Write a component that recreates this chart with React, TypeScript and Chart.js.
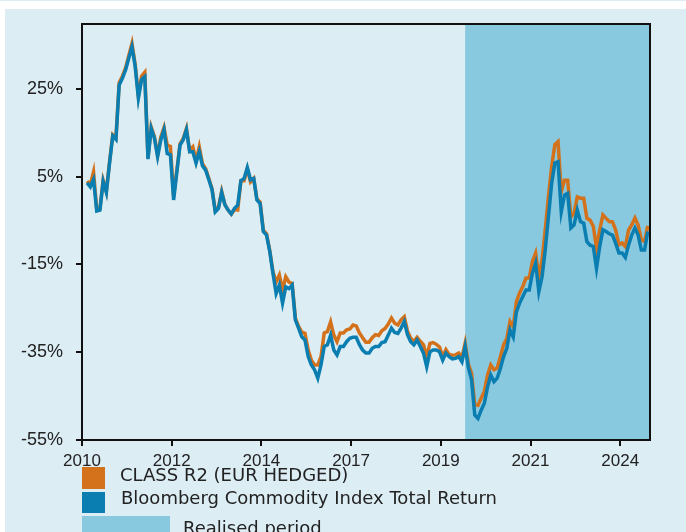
import React, { useEffect, useRef } from 'react';
import { Chart, registerables } from 'chart.js';

Chart.register(...registerables);

// ---- data ----
const xTickLabels = ['2010', '2012', '2014', '2017', '2019', '2021', '2024'];
const TICK_STEP = 28; // months between labelled ticks
const FIRST_POINT = 1.6; // month offset of first observation
const realisedStartIndex = 118; // index of first point in the realised period
const yTickValues = [-55, -35, -15, 5, 25];

const classR2 = [
  4.0, 3.2, 6.1, -2.5, -2.3, 4.2, 1.7, 8.4, 14.6, 13.9,
  26.4, 27.9, 29.8, 32.6, 35.4, 30.6, 23.4, 27.9, 28.8, 9.3,
  16.3, 14.1, 9.9, 14.0, 16.2, 12.2, 11.9, 0.5, 6.5, 12.5,
  13.7, 16.0, 11.0, 11.8, 8.6, 11.8, 8.0, 6.8, 4.6, 2.2,
  -2.8, -1.9, 1.7, -1.3, -2.6, -3.5, -2.5, -2.6, 4.1, 4.1,
  6.8, 3.8, 4.6, -0.1, -0.8, -7.2, -8.0, -11.8, -16.6, -19.0,
  -17.4, -20.8, -17.8, -19.0, -19.3, -27.2, -29.1, -30.4, -30.7, -34.5,
  -36.8, -37.9, -37.9, -36.0, -30.6, -30.3, -28.1, -31.1, -32.6, -30.6,
  -30.6, -29.9, -29.7, -28.8, -29.0, -30.6, -31.7, -32.7, -32.7, -31.7,
  -31.0, -31.2, -30.1, -29.6, -28.6, -27.2, -28.4, -28.8, -27.6, -26.9,
  -30.2, -31.8, -32.5, -31.6, -32.5, -33.3, -36.0, -33.0, -32.8, -33.2,
  -33.8, -36.0, -34.4, -35.5, -35.7, -35.6, -35.2, -36.2, -32.9, -37.7,
  -39.8, -47.0, -47.1, -45.5, -43.9, -40.2, -37.9, -39.0, -38.6, -36.0,
  -33.3, -31.8, -28.0, -29.2, -23.5, -21.5, -20.0, -18.1, -18.1, -14.3,
  -12.4, -17.8, -14.0, -7.1, 0.5, 7.3, 12.3, 13.0, 1.6, 4.2,
  4.2, -4.2, -3.3, 0.4, 0.1, 0.1, -4.5, -4.9, -6.3, -11.3,
  -7.1, -3.7, -4.5, -5.2, -5.3, -7.2, -10.5, -10.1, -10.9, -7.2,
  -6.0, -4.4, -6.0, -9.4, -9.8, -6.2,
];

const bcomTR = [
  3.6, 2.7, 4.4, -2.8, -2.6, 3.9, 1.4, 8.1, 14.3, 13.5,
  25.9, 27.4, 29.3, 32.0, 34.6, 30.1, 22.9, 27.1, 27.8, 9.0,
  16.0, 13.8, 9.6, 13.4, 15.7, 10.3, 10.0, -0.3, 6.0, 12.2,
  13.4, 15.7, 10.7, 10.7, 8.1, 10.7, 7.5, 6.5, 4.3, 2.0,
  -3.0, -2.2, 1.4, -1.4, -2.6, -3.5, -2.2, -1.5, 4.1, 4.6,
  7.1, 4.3, 4.6, -0.3, -1.1, -7.5, -8.3, -12.0, -17.0, -21.6,
  -19.7, -23.8, -20.1, -20.5, -19.7, -27.6, -29.5, -31.5, -32.2, -36.0,
  -37.9, -39.0, -40.9, -37.9, -33.7, -33.3, -31.1, -34.5, -35.6, -33.7,
  -33.7, -32.6, -31.8, -31.6, -31.6, -33.3, -34.5, -35.2, -35.2, -34.1,
  -33.7, -33.7, -32.8, -32.6, -31.1, -29.5, -30.5, -30.7, -29.5, -28.0,
  -31.0, -32.6, -33.3, -32.2, -33.7, -35.2, -38.3, -34.9, -34.5, -34.5,
  -34.9, -36.8, -35.2, -36.0, -36.5, -36.4, -36.0, -37.2, -33.7, -38.5,
  -41.3, -49.3, -50.1, -48.2, -46.6, -42.9, -40.2, -41.7, -40.9, -38.7,
  -36.0, -34.1, -29.9, -31.5, -25.8, -23.8, -22.3, -20.8, -20.8, -17.0,
  -14.7, -21.2, -17.8, -11.7, -4.1, 3.5, 8.1, 8.4, -3.0, 0.8,
  1.2, -6.7, -6.0, -2.6, -5.2, -5.6, -9.8, -10.6, -10.9, -15.9,
  -10.9, -7.1, -7.5, -8.0, -8.3, -10.2, -12.4, -12.4, -13.4, -10.6,
  -8.3, -6.7, -8.3, -11.7, -11.7, -7.5,
];

const seriesNames = ['CLASS R2 (EUR HEDGED)', 'Bloomberg Commodity Index Total Return'];
const realisedLabel = 'Realised period';

// ---- styles ----
const ORANGE = '#d4721b';
const BLUE = '#0a7db1';
const SHADE = '#88c9e0';
const BG = '#dcedf4';
const FONT = '"Liberation Sans", Arial, sans-serif';
const LEGEND_FONT = '"DejaVu Sans", "Liberation Sans", sans-serif';
const TEXT = '#222';

const toPoints = (arr: number[]) => arr.map((v, k) => ({ x: k + FIRST_POINT, y: v }));

const shadePlugin = {
  id: 'realisedShade',
  beforeDatasetsDraw(chart: any) {
    const { ctx, chartArea, scales } = chart;
    const x0 = scales.x.getPixelForValue(realisedStartIndex + FIRST_POINT);
    ctx.save();
    ctx.fillStyle = SHADE;
    ctx.fillRect(x0, chartArea.top, chartArea.right - x0, chartArea.bottom - chartArea.top);
    ctx.restore();
  },
  afterDatasetsDraw(chart: any) {
    const { ctx, chartArea } = chart;
    ctx.save();
    ctx.strokeStyle = '#111';
    ctx.lineWidth = 2;
    ctx.strokeRect(chartArea.left, chartArea.top, chartArea.right - chartArea.left, chartArea.bottom - chartArea.top);
    ctx.restore();
  },
};

function ChartCanvas() {
  const ref = useRef<HTMLCanvasElement | null>(null);
  useEffect(() => {
    if (!ref.current) return;
    const chart = new Chart(ref.current, {
      type: 'line',
      data: {
        datasets: [
          {
            label: seriesNames[0],
            data: toPoints(classR2),
            borderColor: ORANGE,
            backgroundColor: ORANGE,
            borderWidth: 3.5,
            pointRadius: 0,
            tension: 0,
            order: 1,
          },
          {
            label: seriesNames[1],
            data: toPoints(bcomTR),
            borderColor: BLUE,
            backgroundColor: BLUE,
            borderWidth: 3.5,
            pointRadius: 0,
            tension: 0,
            order: 0,
          },
        ],
      },
      options: {
        animation: false,
        responsive: false,
        maintainAspectRatio: false,
        layout: { padding: { left: 0, top: 24, right: 36, bottom: 56 } },
        plugins: { legend: { display: false }, tooltip: { enabled: false } },
        scales: {
          x: {
            type: 'linear',
            min: 0,
            max: 177.3,
            afterBuildTicks: (s: any) => {
              s.ticks = xTickLabels.map((_, i) => ({ value: i * TICK_STEP }));
            },
            afterFit: (s: any) => {
              s.height = 36;
            },
            ticks: {
              autoSkip: false,
              maxRotation: 0,
              padding: 5,
              color: TEXT,
              font: { family: FONT, size: 17 },
              callback: (_v: any, i: number) => xTickLabels[i],
            },
            grid: { drawOnChartArea: false, drawTicks: true, tickLength: 6, color: '#111', lineWidth: 2 },
            border: { display: false },
          },
          y: {
            type: 'linear',
            min: -55,
            max: 39.8,
            afterBuildTicks: (s: any) => {
              s.ticks = yTickValues.map((v) => ({ value: v }));
            },
            afterFit: (s: any) => {
              s.width = 82;
            },
            ticks: {
              padding: 13,
              color: TEXT,
              font: { family: FONT, size: 18 },
              callback: (v: any) => v + '%',
            },
            grid: { drawOnChartArea: false, drawTicks: true, tickLength: 6, color: '#111', lineWidth: 2 },
            border: { display: false },
          },
        },
      },
      plugins: [shadePlugin],
    });
    return () => chart.destroy();
  }, []);
  return <canvas ref={ref} width={686} height={532} style={{ position: 'absolute', left: 0, top: 0 }} />;
}

const legendText: React.CSSProperties = {
  position: 'absolute',
  fontFamily: LEGEND_FONT,
  fontSize: 18,
  color: TEXT,
  whiteSpace: 'nowrap',
  lineHeight: '20px',
};

export default function App() {
  return (
    <div style={{ position: 'absolute', left: 0, top: 0, width: 686, height: 532, overflow: 'hidden', background: '#fff' }}>
      <div style={{ position: 'absolute', left: 0, top: 0, width: 686, height: 1, background: BG }} />
      <div style={{ position: 'absolute', left: 5, top: 9, width: 681, height: 523, background: BG }} />
      <ChartCanvas />
      <div style={{ position: 'absolute', left: 82, top: 467, width: 23, height: 22, background: ORANGE }} />
      <div style={{ ...legendText, left: 120, top: 465 }}>{seriesNames[0]}</div>
      <div style={{ position: 'absolute', left: 82, top: 492, width: 23, height: 21, background: BLUE }} />
      <div style={{ ...legendText, left: 121, top: 488 }}>{seriesNames[1]}</div>
      <div style={{ position: 'absolute', left: 82, top: 516, width: 88, height: 30, background: SHADE }} />
      <div style={{ ...legendText, left: 183, top: 518 }}>{realisedLabel}</div>
    </div>
  );
}
